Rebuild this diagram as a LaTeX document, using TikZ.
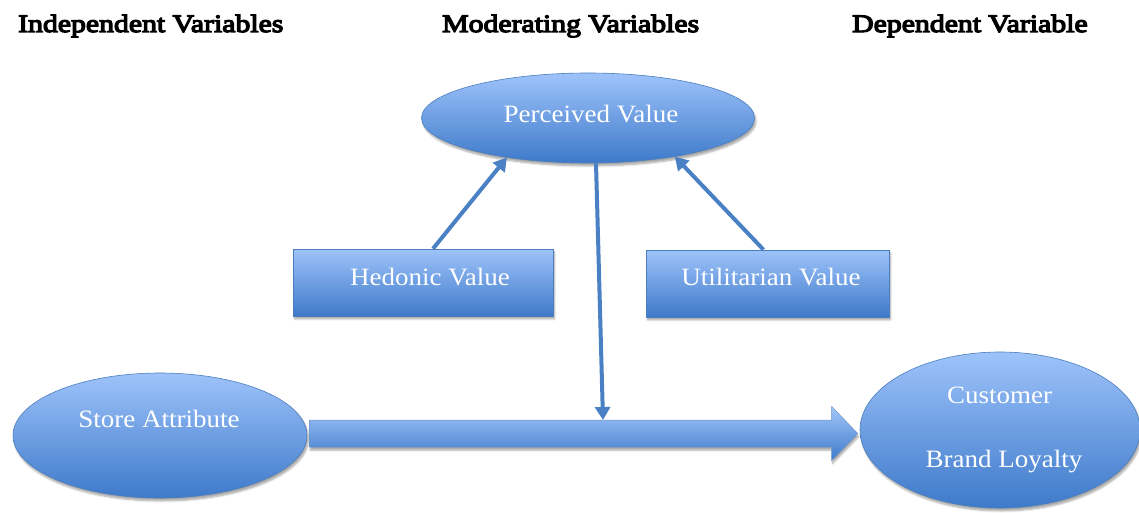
\documentclass[tikz,border=0pt]{standalone}
\usepackage{fontspec}
\setmainfont{Liberation Serif}[FakeStretch=1.08]
\newfontfamily\headfont{Liberation Serif}[FakeStretch=1.19, FakeBold=5]
\usetikzlibrary{shapes.geometric,arrows.meta,calc,shadows.blur}
\definecolor{topblue}{RGB}{158,195,250}
\definecolor{botblue}{RGB}{62,122,202}
\definecolor{edgeblue}{RGB}{74,126,190}
\definecolor{arrblue}{RGB}{74,128,196}
\tikzset{
  boxfill/.style={top color=topblue, bottom color=botblue, draw=edgeblue, line width=0.6pt,
    blur shadow={shadow xshift=1.5pt, shadow yshift=-3pt, shadow blur steps=6, shadow opacity=35}},
  oval/.style={boxfill, ellipse, inner sep=0pt},
  rectbox/.style={boxfill, rectangle, inner sep=0pt},
  wtext/.style={text=white, font=\fontsize{25}{28}\selectfont, anchor=base, inner sep=0pt},
  head/.style={font=\headfont\fontsize{25}{28}\selectfont, anchor=base west, inner sep=0pt},
  conn/.style={draw=arrblue, line width=4pt, -{Triangle[length=13pt,width=15pt]}},
}
\begin{document}
\begin{tikzpicture}[x=1pt,y=1pt]
\useasboundingbox (0,0) rectangle (1139,512);
% headers
\node[head] (h1) at (18,480) {Independent Variables};
\node[head] (h2) at (442,480) {Moderating Variables};
\node[head] (h3) at (852,480) {Dependent Variable};
% shapes
\node[oval, minimum width=333pt, minimum height=90pt] (pv) at (588,394) {};
\node[rectbox, minimum width=260pt, minimum height=67pt] (hed) at (423,229.5) {};
\node[rectbox, minimum width=243pt, minimum height=67pt] (uti) at (767.5,228.5) {};
\node[oval, minimum width=294pt, minimum height=125pt] (sa) at (160,76.5) {};
\node[oval, minimum width=280pt, minimum height=156pt] (cbl) at (1000,82) {};
% texts
\node[wtext] (pvt) at (591,389) {Perceived Value};
\node[wtext] (hedt) at (430,227) {Hedonic Value};
\node[wtext] (utit) at (771,227) {Utilitarian Value};
\node[wtext] (sat) at (159,85) {Store Attribute};
\node[wtext] (cblt1) at (999.5,109) {Customer};
\node[wtext] (cblt2) at (1004,45) {Brand Loyalty};
% big arrow from Store Attribute to Customer Brand Loyalty
\coordinate (s0) at ($(sa.east)+(2,2)$);
\coordinate (t0) at ($(cbl.west)+(-2,-3.5)$);
\path[top color=topblue!95!white, bottom color=botblue, draw=edgeblue!80, line width=0.5pt,
      blur shadow={shadow xshift=1pt, shadow yshift=-3pt, shadow blur steps=6, shadow opacity=35}]
  ($(s0)+(0,-13.5)$) -- ($(t0)+(-26,-13.5)$) -- ($(t0)+(-26,-27)$) -- (t0)
  -- ($(t0)+(-26,27)$) -- ($(t0)+(-26,13.5)$) -- ($(s0)+(0,13.5)$) -- cycle;
\coordinate (vtip) at (603,92);
% thin arrows
\draw[conn] ($(hed.north)+(10,0)$) -- (pv.206);
\draw[conn] ($(uti.north)+(-4,0)$) -- (pv.336);
\draw[conn] ($(pv.south)+(8,0)$) -- (vtip);
\end{tikzpicture}
\end{document}
